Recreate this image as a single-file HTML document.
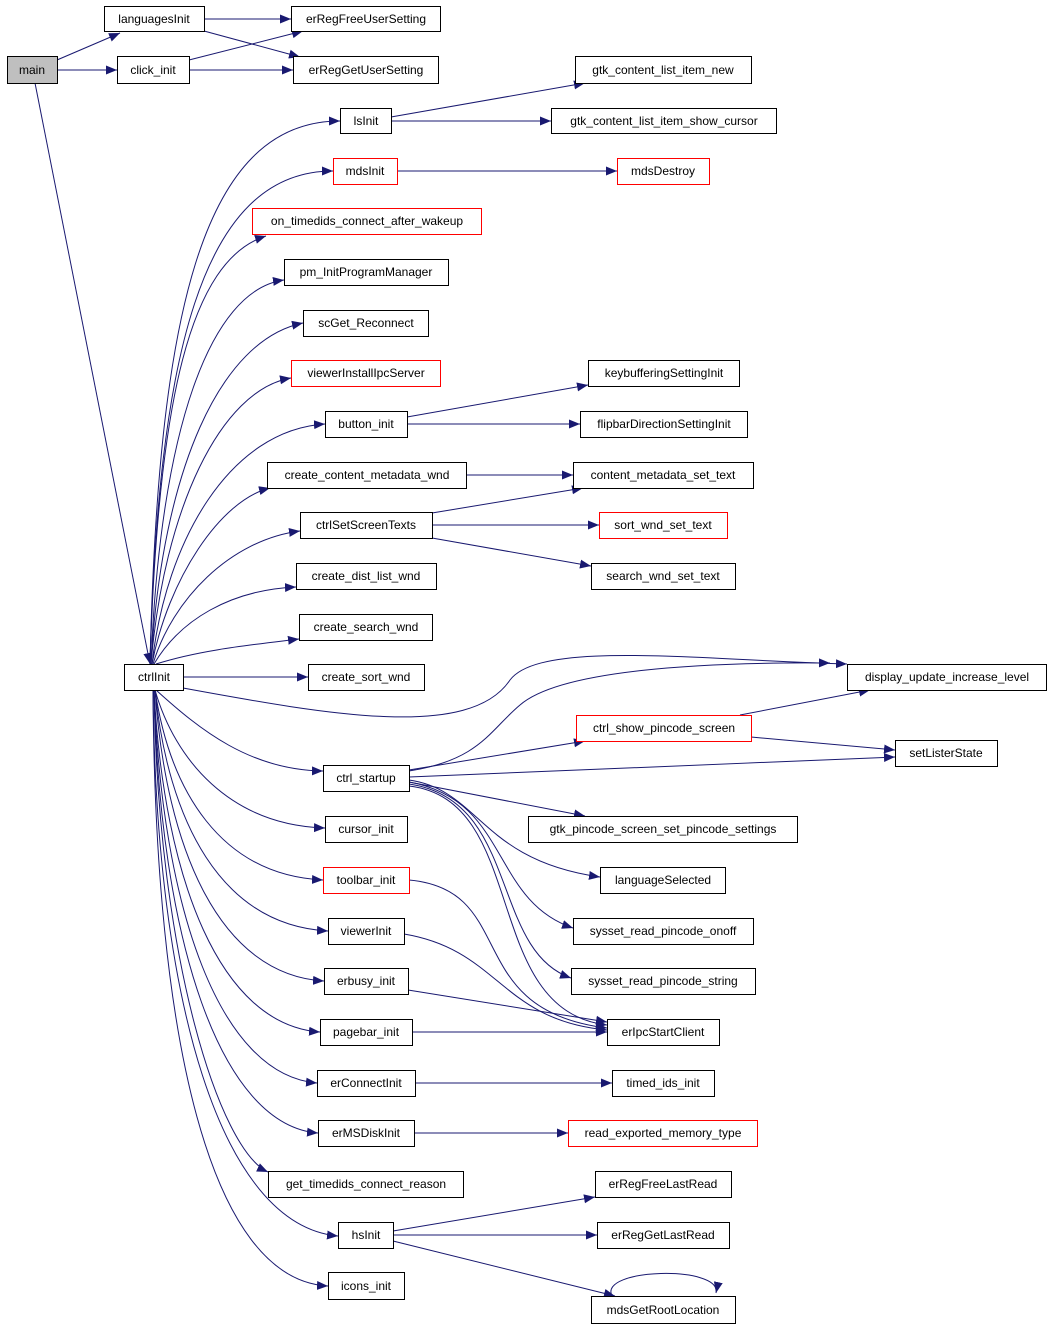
<!DOCTYPE html>
<html><head><meta charset="utf-8"><style>
html,body{margin:0;padding:0;background:#fff}
svg{display:block}
text{font-family:"Liberation Sans",sans-serif;font-size:12px;fill:#000}
</style></head><body>
<svg width="1051" height="1328" viewBox="0 0 1051 1328" xmlns="http://www.w3.org/2000/svg">
<defs><marker id="a" markerUnits="userSpaceOnUse" markerWidth="12" markerHeight="10" refX="11" refY="5" orient="auto"><path d="M0,0.5 L11,5 L0,9.5 z" fill="#191970"/></marker></defs>
<g fill="none" stroke="#191970" stroke-width="1" marker-end="url(#a)">
<path d="M35,83 L150,664"/>
<path d="M57,60 L120,33"/>
<path d="M57,70 L117,70"/>
<path d="M204,19 L291,19"/>
<path d="M204,31 L300,57"/>
<path d="M189,60 L303,31"/>
<path d="M189,70 L293,70"/>
<path d="M391,117 L585,83"/>
<path d="M391,121 L551,121"/>
<path d="M397,171 L617,171"/>
<path d="M407,417 L588,385"/>
<path d="M407,424 L580,424"/>
<path d="M466,475 L573,475"/>
<path d="M432,513 L583,488"/>
<path d="M432,525 L599,525"/>
<path d="M432,538 L591,566"/>
<path d="M183,677 L308,677"/>
<path d="M183,688 C330,715 470,740 510,680 C540,640 700,660 847,664"/>
<path d="M409,771 C480,760 490,730 520,705 C560,670 700,662 830,663"/>
<path d="M740,715 L870,690"/>
<path d="M409,770 L585,741"/>
<path d="M751,737 L895,750"/>
<path d="M409,777 L895,757"/>
<path d="M409,782 L585,816"/>
<path d="M409,780 C480,790 480,860 600,877"/>
<path d="M409,782 C510,800 490,900 573,928"/>
<path d="M409,784 C520,800 490,950 571,978"/>
<path d="M409,786 C530,800 480,1010 607,1025"/>
<path d="M409,880 C520,890 460,1010 607,1028"/>
<path d="M404,934 C500,950 500,1020 607,1030"/>
<path d="M408,990 L607,1022"/>
<path d="M412,1032 L607,1032"/>
<path d="M415,1083 L612,1083"/>
<path d="M414,1133 L568,1133"/>
<path d="M393,1231 L595,1197"/>
<path d="M393,1235 L597,1235"/>
<path d="M393,1241 L615,1296"/>
<path d="M612,1296 C598,1268 722,1265 716,1293"/>
<path d="M150,664 C158,320 200,121 340,121"/>
<path d="M150,664 C158,360 200,171 333,171"/>
<path d="M150,664 C158,400 190,260 266,236"/>
<path d="M151,664 C160,430 210,290 284,280"/>
<path d="M151,664 C162,470 220,340 303,323"/>
<path d="M151,664 C164,510 220,390 291,378"/>
<path d="M152,664 C166,540 230,430 325,424"/>
<path d="M152,664 C168,580 220,500 270,488"/>
<path d="M153,664 C172,600 230,540 300,531"/>
<path d="M154,664 C180,620 230,590 296,587"/>
<path d="M156,664 C200,650 250,645 299,639"/>
<path d="M156,690 C200,730 250,770 323,771"/>
<path d="M155,690 C175,760 230,825 325,828"/>
<path d="M155,690 C170,790 220,875 323,880"/>
<path d="M155,690 C168,820 220,925 328,931"/>
<path d="M155,690 C166,850 220,975 324,981"/>
<path d="M154,690 C164,880 220,1025 320,1032"/>
<path d="M154,690 C162,910 220,1075 317,1083"/>
<path d="M154,690 C160,940 220,1125 318,1133"/>
<path d="M154,690 C158,960 220,1150 268,1172"/>
<path d="M153,690 C156,1000 220,1225 338,1236"/>
<path d="M153,690 C155,1040 210,1280 328,1286"/>
</g>
<g stroke-width="1" fill="#fff">
<rect x="7.5" y="56.5" width="50" height="27" fill="#bfbfbf" stroke="#000"/>
<g stroke="#000">
<rect x="104.5" y="6.5" width="100" height="25"/>
<rect x="117.5" y="56.5" width="72" height="27"/>
<rect x="291.5" y="6.5" width="149" height="25"/>
<rect x="293.5" y="56.5" width="145" height="27"/>
<rect x="340.5" y="108.5" width="51" height="25"/>
<rect x="575.5" y="56.5" width="176" height="27"/>
<rect x="551.5" y="108.5" width="225" height="25"/>
<rect x="284.5" y="259.5" width="164" height="26"/>
<rect x="303.5" y="310.5" width="125" height="26"/>
<rect x="325.5" y="411.5" width="82" height="26"/>
<rect x="588.5" y="360.5" width="151" height="26"/>
<rect x="580.5" y="411.5" width="167" height="26"/>
<rect x="267.5" y="462.5" width="199" height="26"/>
<rect x="573.5" y="462.5" width="180" height="26"/>
<rect x="300.5" y="512.5" width="132" height="26"/>
<rect x="591.5" y="563.5" width="144" height="26"/>
<rect x="296.5" y="563.5" width="140" height="26"/>
<rect x="299.5" y="614.5" width="133" height="26"/>
<rect x="124.5" y="664.5" width="59" height="26"/>
<rect x="308.5" y="664.5" width="116" height="26"/>
<rect x="847.5" y="664.5" width="199" height="26"/>
<rect x="895.5" y="740.5" width="102" height="26"/>
<rect x="323.5" y="765.5" width="86" height="26"/>
<rect x="528.5" y="816.5" width="269" height="26"/>
<rect x="325.5" y="816.5" width="82" height="26"/>
<rect x="600.5" y="867.5" width="125" height="26"/>
<rect x="328.5" y="918.5" width="76" height="26"/>
<rect x="573.5" y="918.5" width="180" height="26"/>
<rect x="324.5" y="968.5" width="84" height="26"/>
<rect x="571.5" y="968.5" width="184" height="26"/>
<rect x="320.5" y="1019.5" width="92" height="26"/>
<rect x="607.5" y="1019.5" width="112" height="26"/>
<rect x="317.5" y="1070.5" width="98" height="26"/>
<rect x="612.5" y="1070.5" width="102" height="26"/>
<rect x="318.5" y="1120.5" width="96" height="26"/>
<rect x="268.5" y="1171.5" width="195" height="26"/>
<rect x="595.5" y="1171.5" width="136" height="26"/>
<rect x="338.5" y="1222.5" width="55" height="26"/>
<rect x="597.5" y="1222.5" width="132" height="26"/>
<rect x="328.5" y="1272.5" width="76" height="27"/>
<rect x="591.5" y="1296.5" width="144" height="27"/>
</g>
<g stroke="#ff0000">
<rect x="333.5" y="158.5" width="64" height="26"/>
<rect x="617.5" y="158.5" width="92" height="26"/>
<rect x="252.5" y="208.5" width="229" height="26"/>
<rect x="291.5" y="360.5" width="149" height="26"/>
<rect x="599.5" y="512.5" width="128" height="26"/>
<rect x="576.5" y="715.5" width="175" height="26"/>
<rect x="323.5" y="867.5" width="86" height="26"/>
<rect x="568.5" y="1120.5" width="189" height="26"/>
</g>
</g>
<g text-anchor="middle">
<text x="32" y="74">main</text>
<text x="154" y="23">languagesInit</text>
<text x="153" y="74">click_init</text>
<text x="366" y="23">erRegFreeUserSetting</text>
<text x="366" y="74">erRegGetUserSetting</text>
<text x="366" y="125">lsInit</text>
<text x="663" y="74">gtk_content_list_item_new</text>
<text x="664" y="125">gtk_content_list_item_show_cursor</text>
<text x="365" y="175">mdsInit</text>
<text x="663" y="175">mdsDestroy</text>
<text x="367" y="225">on_timedids_connect_after_wakeup</text>
<text x="366" y="276">pm_InitProgramManager</text>
<text x="366" y="327">scGet_Reconnect</text>
<text x="366" y="377">viewerInstallIpcServer</text>
<text x="366" y="428">button_init</text>
<text x="664" y="377">keybufferingSettingInit</text>
<text x="664" y="428">flipbarDirectionSettingInit</text>
<text x="367" y="479">create_content_metadata_wnd</text>
<text x="663" y="479">content_metadata_set_text</text>
<text x="366" y="529">ctrlSetScreenTexts</text>
<text x="663" y="529">sort_wnd_set_text</text>
<text x="663" y="580">search_wnd_set_text</text>
<text x="366" y="580">create_dist_list_wnd</text>
<text x="366" y="631">create_search_wnd</text>
<text x="154" y="681">ctrlInit</text>
<text x="366" y="681">create_sort_wnd</text>
<text x="947" y="681">display_update_increase_level</text>
<text x="664" y="732">ctrl_show_pincode_screen</text>
<text x="946" y="757">setListerState</text>
<text x="366" y="782">ctrl_startup</text>
<text x="663" y="833">gtk_pincode_screen_set_pincode_settings</text>
<text x="366" y="833">cursor_init</text>
<text x="663" y="884">languageSelected</text>
<text x="366" y="884">toolbar_init</text>
<text x="366" y="935">viewerInit</text>
<text x="663" y="935">sysset_read_pincode_onoff</text>
<text x="366" y="985">erbusy_init</text>
<text x="663" y="985">sysset_read_pincode_string</text>
<text x="366" y="1036">pagebar_init</text>
<text x="663" y="1036">erIpcStartClient</text>
<text x="366" y="1087">erConnectInit</text>
<text x="663" y="1087">timed_ids_init</text>
<text x="366" y="1137">erMSDiskInit</text>
<text x="663" y="1137">read_exported_memory_type</text>
<text x="366" y="1188">get_timedids_connect_reason</text>
<text x="663" y="1188">erRegFreeLastRead</text>
<text x="366" y="1239">hsInit</text>
<text x="663" y="1239">erRegGetLastRead</text>
<text x="366" y="1290">icons_init</text>
<text x="663" y="1314">mdsGetRootLocation</text>
</g>
</svg>
</body></html>
